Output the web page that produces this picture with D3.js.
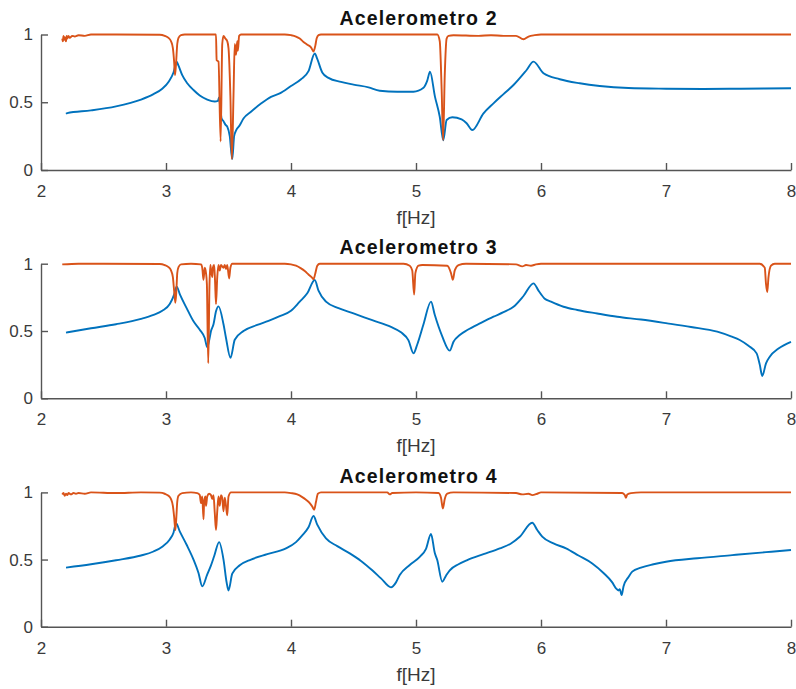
<!DOCTYPE html>
<html>
<head>
<meta charset="utf-8">
<script src="https://cdn.jsdelivr.net/npm/d3@7"></script>
<style>
  body { margin: 0; background: #fff; }
  svg { display: block; }
  .tick text { font-family: "Liberation Sans", Arial, Helvetica, sans-serif; font-size: 17px; fill: #3a3a3a; }
</style>
</head>
<body>
<svg id="chart" width="796" height="689"></svg>
<script>
// ---- data: blue and orange response curves per accelerometer ----
const titles = ["Acelerometro 2", "Acelerometro 3", "Acelerometro 4"];
const xLabel = "f[Hz]";
const xTicks = [2, 3, 4, 5, 6, 7, 8];
const yTicks = [0, 0.5, 1];

const ac2Blue = [
  [2.20,0.415],[2.21,0.42],[2.4,0.44],[2.6,0.47],[2.8,0.52],[2.9,0.56],[2.97,0.60],[3.02,0.65],[3.06,0.72],
  [3.085,0.80],[3.10,0.77],[3.13,0.70],[3.17,0.64],[3.22,0.59],[3.27,0.55],[3.33,0.52],[3.39,0.505],
  [3.415,0.51],[3.425,0.535],[3.435,0.45],[3.445,0.38],[3.46,0.36],[3.475,0.335],[3.49,0.32],[3.51,0.25],
  [3.53,0.08],[3.545,0.25],[3.56,0.29],[3.59,0.33],[3.62,0.38],[3.68,0.43],[3.76,0.49],[3.84,0.54],
  [3.91,0.565],[4.00,0.62],[4.08,0.67],[4.14,0.73],[4.19,0.86],[4.21,0.82],[4.25,0.72],[4.30,0.68],
  [4.40,0.65],[4.50,0.63],[4.62,0.61],[4.71,0.585],[4.85,0.578],[4.98,0.578],[5.06,0.607],[5.09,0.66],
  [5.112,0.725],[5.152,0.54],[5.19,0.393],[5.218,0.22],[5.245,0.369],[5.29,0.389],[5.365,0.374],
  [5.405,0.345],[5.45,0.295],[5.54,0.418],[5.62,0.492],[5.70,0.56],[5.78,0.627],[5.885,0.738],[5.94,0.80],
  [6.02,0.714],[6.15,0.67],[6.31,0.64],[6.47,0.62],[6.7,0.605],[7.0,0.600],[7.3,0.598],[7.6,0.600],[8.0,0.603]
];
const ac2Orange = [
  [2.17,0.97],[2.175,0.95],[2.18,0.99],[2.185,0.96],[2.19,0.98],[2.20,0.95],[2.205,0.99],[2.21,0.97],
  [2.22,0.99],[2.23,0.975],[2.25,0.99],[2.27,0.985],[2.30,0.995],[2.35,0.99],[2.40,1.0],[2.95,0.998],
  [2.99,0.99],[3.02,0.975],[3.04,0.95],[3.055,0.90],[3.065,0.80],[3.072,0.70],[3.08,0.78],[3.09,0.93],
  [3.10,0.975],[3.12,0.995],[3.15,1.0],
  [3.40,1.0],[3.405,0.81],[3.42,0.80],[3.437,0.21],[3.45,0.93],[3.46,0.99],[3.475,0.97],[3.49,0.95],
  [3.50,0.90],[3.515,0.55],[3.527,0.08],[3.54,0.55],[3.55,0.93],[3.56,0.85],[3.57,0.95],[3.575,0.88],
  [3.585,0.99],[3.60,1.0],[3.95,1.0],[4.0,0.995],[4.04,0.985],[4.07,0.97],[4.10,0.945],[4.13,0.925],
  [4.16,0.905],[4.18,0.875],[4.195,0.92],[4.205,0.97],[4.22,0.995],[4.24,1.0],
  [5.17,1.0],[5.19,0.95],[5.205,0.6],[5.217,0.22],[5.23,0.7],
  [5.245,0.97],[5.26,0.99],[5.30,0.995],[5.50,0.99],[5.60,0.995],[5.70,0.99],[5.80,0.99],[5.86,0.965],
  [5.90,0.985],[5.95,0.995],[6.0,1.0],[8.0,1.0]
];

const ac3Blue = [
  [2.2,0.488],[2.4,0.52],[2.6,0.55],[2.8,0.59],[2.9,0.62],[2.97,0.65],[3.03,0.70],[3.065,0.77],[3.085,0.83],
  [3.112,0.77],[3.165,0.67],[3.22,0.572],[3.27,0.51],[3.31,0.448],[3.33,0.379],[3.345,0.43],[3.36,0.50],
  [3.38,0.55],[3.40,0.646],[3.42,0.683],[3.46,0.55],[3.48,0.448],[3.516,0.30],[3.55,0.435],[3.62,0.50],
  [3.73,0.545],[3.82,0.575],[3.91,0.61],[4.00,0.65],[4.07,0.718],[4.13,0.78],[4.19,0.879],[4.22,0.80],
  [4.28,0.718],[4.38,0.67],[4.50,0.631],[4.65,0.58],[4.80,0.53],[4.88,0.49],[4.94,0.43],[4.98,0.334],
  [5.01,0.40],[5.06,0.55],[5.12,0.718],[5.15,0.62],[5.21,0.46],[5.27,0.354],[5.30,0.42],[5.35,0.47],
  [5.41,0.507],[5.52,0.56],[5.62,0.606],[5.70,0.64],[5.78,0.68],[5.86,0.76],[5.94,0.854],[5.98,0.80],
  [6.03,0.74],[6.08,0.718],[6.18,0.68],[6.29,0.656],[6.45,0.63],[6.61,0.606],[6.8,0.585],[7.01,0.557],
  [7.2,0.53],[7.41,0.495],[7.52,0.46],[7.59,0.433],[7.66,0.39],[7.725,0.334],[7.75,0.25],[7.77,0.166],
  [7.80,0.26],[7.83,0.309],[7.9,0.37],[8.0,0.42]
];
const ac3Orange = [
  [2.17,0.995],[2.3,1.0],[2.5,1.0],[2.95,0.998],[2.99,0.99],[3.02,0.975],[3.04,0.95],[3.055,0.90],
  [3.065,0.80],[3.075,0.71],[3.083,0.80],[3.09,0.93],[3.10,0.975],[3.12,0.995],[3.2,1.0],[3.28,0.995],
  [3.29,0.97],[3.30,0.88],[3.31,0.97],
  [3.32,0.93],[3.327,0.85],[3.338,0.26],[3.348,0.85],[3.355,0.99],[3.36,0.95],[3.37,0.90],[3.375,0.97],
  [3.385,0.99],[3.392,0.88],[3.40,0.70],[3.41,0.90],[3.42,0.99],[3.43,0.95],[3.44,0.99],[3.46,0.97],
  [3.47,0.99],[3.48,0.96],[3.49,0.99],[3.505,0.89],[3.515,0.97],[3.53,1.0],[3.95,1.0],[4.0,0.995],
  [4.04,0.985],[4.08,0.965],[4.11,0.945],[4.14,0.92],[4.165,0.9],[4.18,0.885],[4.195,0.93],[4.21,0.985],
  [4.23,1.0],[4.90,1.0],[4.95,0.985],
  [4.97,0.95],[4.985,0.77],[4.995,0.93],[5.02,0.985],[5.05,0.99],[5.25,0.985],[5.28,0.93],[5.295,0.88],
  [5.31,0.95],[5.34,0.99],[5.40,1.0],[5.80,0.995],[5.85,0.98],[5.88,0.99],[5.92,0.985],[5.96,0.995],
  [6.0,1.0],[7.75,1.0],[7.79,0.97],[7.80,0.85],[7.81,0.79],[7.82,0.90],[7.84,0.985],[7.87,1.0],[8.0,1.0]
];

const ac4Blue = [
  [2.2,0.44],[2.4,0.465],[2.6,0.495],[2.8,0.53],[2.9,0.56],[2.97,0.595],[3.03,0.65],[3.06,0.70],[3.08,0.77],
  [3.11,0.71],[3.165,0.61],[3.22,0.50],[3.26,0.40],[3.29,0.30],[3.33,0.39],[3.36,0.457],[3.387,0.53],
  [3.425,0.63],[3.46,0.50],[3.485,0.33],[3.50,0.27],[3.53,0.395],[3.59,0.457],[3.68,0.50],[3.81,0.54],
  [3.96,0.583],[4.04,0.63],[4.09,0.68],[4.14,0.74],[4.18,0.824],[4.21,0.76],[4.28,0.657],[4.37,0.60],
  [4.47,0.546],[4.56,0.49],[4.65,0.42],[4.72,0.36],[4.80,0.293],[4.84,0.33],[4.87,0.385],[4.95,0.46],
  [5.03,0.52],[5.08,0.58],[5.12,0.69],[5.15,0.55],[5.17,0.496],[5.21,0.335],[5.24,0.38],[5.27,0.42],
  [5.34,0.465],[5.41,0.496],[5.54,0.54],[5.67,0.583],[5.76,0.62],[5.83,0.67],[5.93,0.774],[5.97,0.72],
  [6.01,0.67],[6.1,0.62],[6.2,0.583],[6.3,0.53],[6.41,0.471],[6.5,0.40],[6.57,0.33],[6.60,0.285],
  [6.62,0.27],[6.63,0.28],[6.645,0.235],[6.66,0.30],[6.70,0.37],[6.73,0.41],[6.8,0.44],[6.9,0.465],
  [7.0,0.484],[7.25,0.51],[7.53,0.533],[7.8,0.555],[8.0,0.571]
];
const ac4Orange = [
  [2.17,0.985],[2.18,0.995],[2.19,0.975],[2.20,0.99],[2.21,0.98],[2.22,0.995],[2.24,0.985],[2.26,0.995],
  [2.28,0.99],[2.30,0.995],[2.35,0.99],[2.40,1.0],[2.60,0.995],[2.80,1.0],[2.95,0.998],[2.99,0.99],
  [3.02,0.975],[3.04,0.95],[3.055,0.90],[3.065,0.82],[3.075,0.72],[3.083,0.82],[3.09,0.93],[3.10,0.975],
  [3.13,0.995],[3.20,1.0],[3.25,0.995],
  [3.27,0.98],[3.28,0.92],[3.29,0.97],[3.30,0.80],[3.305,0.93],[3.315,0.97],[3.32,0.90],[3.33,0.97],
  [3.345,0.99],[3.36,0.98],[3.37,0.95],[3.38,0.98],[3.39,0.85],[3.40,0.72],[3.41,0.86],[3.42,0.97],
  [3.43,0.90],[3.44,0.98],[3.45,0.96],[3.46,0.86],[3.47,0.96],[3.48,0.90],[3.49,0.83],[3.50,0.97],
  [3.52,1.0],[3.95,1.0],[4.0,0.995],[4.05,0.985],[4.09,0.965],[4.12,0.945],[4.15,0.92],[4.17,0.895],
  [4.185,0.87],[4.20,0.93],[4.215,0.99],[4.24,1.0],[4.77,1.0],[4.79,0.985],[4.81,0.995],[5.0,1.0],[5.18,0.995],[5.20,0.96],
  [5.215,0.88],[5.23,0.95],[5.25,0.99],[5.30,1.0],[5.80,0.995],[5.85,0.985],[5.90,0.99],[5.93,0.98],
  [5.97,0.99],[6.0,1.0],[6.65,0.995],[6.67,0.98],[6.68,0.96],[6.69,0.985],[6.72,0.995],[6.80,1.0],[8.0,1.0]
];

const blueSeries = [ac2Blue, ac3Blue, ac4Blue];
const orangeSeries = [ac2Orange, ac3Orange, ac4Orange];

// ---- layout ----
const svg = d3.select("#chart");
const left = 41, right = 791;
const panels = [
  { top: 34.5, bottom: 170 },
  { top: 263.7, bottom: 398.3 },
  { top: 492.4, bottom: 626.7 }
];
const axisColor = "#555";
const fontFamily = '"Liberation Sans", Arial, Helvetica, sans-serif';

const x = d3.scaleLinear().domain([2, 8]).range([left, right]);

panels.forEach((p, i) => {
  const y = d3.scaleLinear().domain([0, 1]).range([p.bottom, p.top]);
  const g = svg.append("g");

  const line = d3.line().x(d => x(d[0])).y(d => y(d[1])).curve(d3.curveMonotoneX);
  g.append("path")
    .datum(blueSeries[i])
    .attr("fill", "none")
    .attr("stroke", "#0072BD")
    .attr("stroke-width", 1.9)
    .attr("stroke-linejoin", "round")
    .attr("d", line);
  g.append("path")
    .datum(orangeSeries[i])
    .attr("fill", "none")
    .attr("stroke", "#D95319")
    .attr("stroke-width", 1.9)
    .attr("stroke-linejoin", "round")
    .attr("d", line);

  // axes: left and bottom only, ticks pointing inward
  const xAxis = g.append("g")
    .attr("transform", `translate(0,${p.bottom})`)
    .call(d3.axisBottom(x).tickValues(xTicks).tickSize(-7).tickSizeOuter(0).tickPadding(15)
      .tickFormat(d3.format("d")));
  const yAxis = g.append("g")
    .attr("transform", `translate(${left},0)`)
    .call(d3.axisLeft(y).tickValues(yTicks).tickSize(-7).tickSizeOuter(0).tickPadding(8)
      .tickFormat(d => String(d)));
  [xAxis, yAxis].forEach(a => {
    a.select(".domain").attr("stroke", axisColor).attr("stroke-width", 1.4);
    a.selectAll(".tick line").attr("stroke", axisColor).attr("stroke-width", 1.4);
    a.attr("font-family", null).attr("font-size", null);
  });

  // title
  g.append("text")
    .attr("x", (left + right) / 2 + 2)
    .attr("y", p.top - 9.5)
    .attr("text-anchor", "middle")
    .attr("font-family", fontFamily)
    .attr("font-weight", "bold")
    .attr("font-size", 19.5)
    .attr("textLength", 157)
    .attr("lengthAdjust", "spacing")
    .attr("fill", "#111")
    .text(titles[i]);

  // x label
  g.append("text")
    .attr("x", (left + right) / 2)
    .attr("y", p.bottom + 54)
    .attr("text-anchor", "middle")
    .attr("font-family", fontFamily)
    .attr("font-size", 19)
    .attr("fill", "#3a3a3a")
    .text(xLabel);
});
</script>
</body>
</html>
